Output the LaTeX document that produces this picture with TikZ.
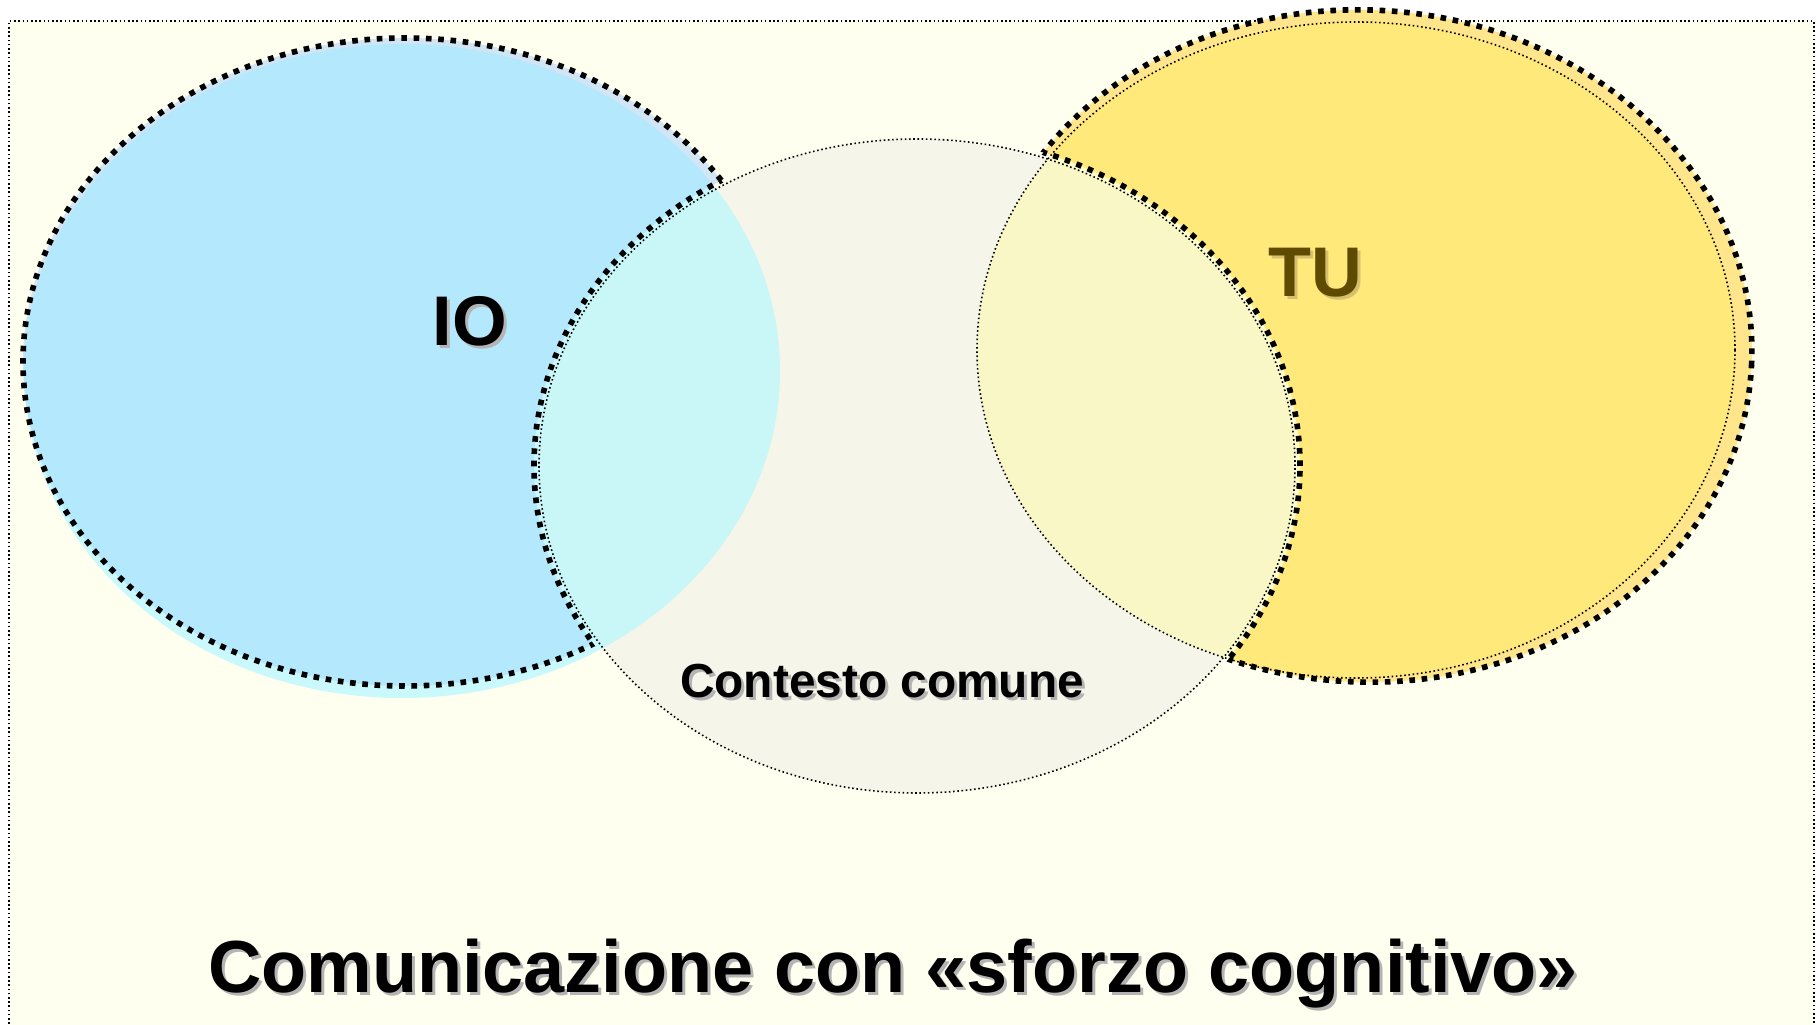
\documentclass[tikz,border=0pt]{standalone}
\usepackage{fontspec}
\setmainfont{Liberation Sans}
\definecolor{bgivory}{RGB}{255,255,239}
\definecolor{blueio}{RGB}{180,232,252}
\definecolor{cyanstrip}{RGB}{202,249,253}
\definecolor{greyblue}{RGB}{210,229,244}
\definecolor{cyanover}{RGB}{201,246,246}
\definecolor{beigectx}{RGB}{245,245,234}
\definecolor{paleover}{RGB}{248,247,197}
\definecolor{palegap}{RGB}{255,252,205}
\definecolor{yellowtu}{RGB}{255,233,122}
\definecolor{yellowstrip}{RGB}{255,229,140}
\definecolor{tutext}{RGB}{95,75,0}
\definecolor{tushadow}{RGB}{214,192,112}
\definecolor{shadowgrey}{RGB}{180,180,180}
\begin{document}
\begin{tikzpicture}[
  thickdot/.style={line width=1.6pt, dash pattern=on 1.6pt off 1.9pt},
  thindot/.style={line width=0.45pt, dash pattern=on 0.45pt off 0.75pt},
  ellIO/.style={insert path={(4.02,6.54) ellipse [x radius=3.78, y radius=3.27]}},
  ovalIO/.style={insert path={(4.05,6.63) ellipse [x radius=3.82, y radius=3.24]}},
  ellCtx/.style={insert path={(9.17,5.59) ellipse [x radius=3.78, y radius=3.27]}},
  ellCtxBig/.style={insert path={(9.17,5.59) ellipse [x radius=3.83, y radius=3.32]}},
  ellTU/.style={insert path={(13.56,6.75) ellipse [x radius=3.79, y radius=3.28]}},
  ovalTU/.style={insert path={(13.64,6.79) ellipse [x radius=3.88, y radius=3.36]}},
  tilt/.style={rotate around={-3:(13.64,6.79)}},
  outerframe/.style={insert path={(-1,-1) -- (-1,12) -- (20,12) -- (20,-1) -- cycle}},
  biglbl/.style={inner sep=0pt, anchor=base, font=\bfseries\fontsize{20}{24}\selectfont},
  midlbl/.style={inner sep=0pt, anchor=base, font=\bfseries\fontsize{13.6}{16}\selectfont},
  titlelbl/.style={inner sep=0pt, anchor=base, font=\bfseries\fontsize{21}{25}\selectfont}
]
\useasboundingbox (0,0) rectangle (18.18,10.25);
\fill[white] (0,0) rectangle (18.18,10.25);
\fill[bgivory] (0.09,0) rectangle (18.14,10.04);
\draw[thindot, line width=0.5pt] (0.09,-0.2) -- (0.09,10.04) -- (18.14,10.04) -- (18.14,-0.2);

% IO region
\fill[cyanstrip, ellIO];
\begin{scope}
  \clip[ellCtxBig, outerframe];
  \fill[greyblue, ovalIO];
  \clip[ellIO];
  \fill[blueio, ovalIO];
\end{scope}

% TU region
\fill[palegap, ellTU];
\begin{scope}
  \clip[ellCtxBig, outerframe];
  \fill[yellowstrip, tilt, ovalTU];
  \clip[ellTU];
  \fill[yellowtu, tilt, ovalTU];
\end{scope}

% common context
\fill[beigectx, ellCtx];
\begin{scope}
  \clip[ellCtx];
  \fill[cyanover, ellIO];
  \fill[paleover, ellTU];
\end{scope}

\draw[thindot, ellCtx];
\draw[thindot, ellTU];

% thick dotted outlines
\begin{scope}
  \clip[ellCtxBig, outerframe];
  \draw[thickdot, ovalIO];
  \draw[thickdot, tilt, ovalTU];
\end{scope}
\begin{scope}
  \clip[ovalIO];
  \draw[thickdot, ellCtxBig];
\end{scope}
\begin{scope}
  \clip[tilt, ovalTU];
  \draw[thickdot, ellCtxBig];
\end{scope}

% labels
\node[biglbl, text=shadowgrey] (ioshadow) at (4.73,6.76) {IO};
\node[biglbl] (io) at (4.70,6.79) {IO};
\node[biglbl, text=tushadow] (tushadownode) at (13.18,7.25) {TU};
\node[biglbl, text=tutext] (tu) at (13.15,7.28) {TU};
\node[midlbl, text=shadowgrey] (ctxshadow) at (8.85,3.24) {Contesto comune};
\node[midlbl] (ctx) at (8.82,3.27) {Contesto comune};
\node[titlelbl, text=shadowgrey] (titleshadow) at (8.96,0.29) {Comunicazione con «sforzo cognitivo»};
\node[titlelbl] (title) at (8.93,0.32) {Comunicazione con «sforzo cognitivo»};
\end{tikzpicture}
\end{document}
